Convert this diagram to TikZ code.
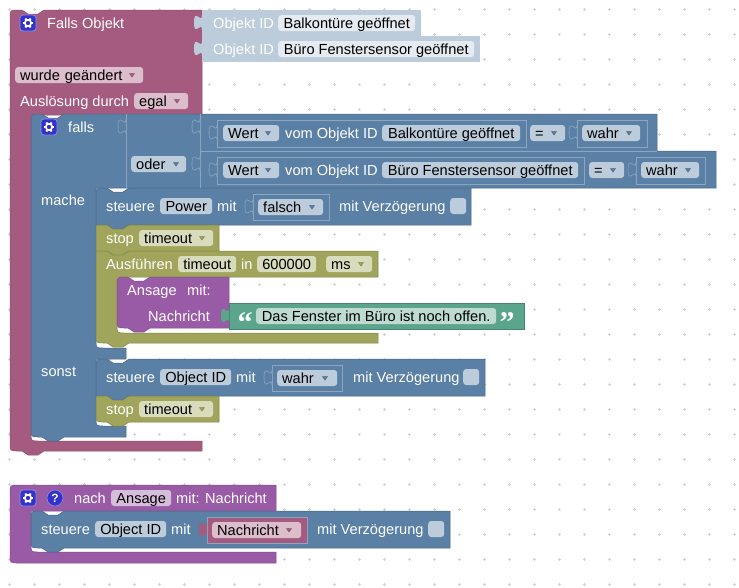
\documentclass[tikz,border=0pt]{standalone}
\usepackage{fontspec}
\setmainfont{Liberation Sans}
\newfontfamily\quotefont{Liberation Serif}

% block shapes, in pixel coordinates
\newcommand{\notchgo}[2]{-- (#1-11,#2) -- (#1-5,#2+4) -- (#1+5,#2+4) -- (#1+11,#2)}
\newcommand{\notchback}[2]{-- (#1+11,#2) -- (#1+5,#2+4) -- (#1-5,#2+4) -- (#1-11,#2)}
\newcommand{\puzzletab}[3]{\path[#3] (#1,#2+15) .. controls (#1,#2+5) and (#1-8,#2+23) .. (#1-8,#2+7.5) .. controls (#1-8,#2-8) and (#1,#2+10) .. (#1,#2);}
\newcommand{\droptri}[3]{\fill[#3] (#1-2.5,#2-1.5) -- (#1+2.5,#2-1.5) -- (#1,#2+2) -- cycle;}

\tikzset{
    blocktext/.style={anchor=west, inner sep=0pt, text=white, text height=12pt, text depth=2pt},
    fieldbox/.style={anchor=west, rounded corners=3pt, inner xsep=5pt, inner ysep=1pt, text=black, align=left, text height=12pt, text depth=2pt},
    bluefield/.style={fieldbox, fill=bluefield},
    pinkfield/.style={fieldbox, fill=pinkfield},
    olivefield/.style={fieldbox, fill=olivefield},
    purplefield/.style={fieldbox, fill=purplefield},
    greenfield/.style={fieldbox, fill=greenfield},
    lightfield/.style={fieldbox, fill=lightfield},
    pinkblock/.style={fill=pinkblock, draw=pinkedge, line width=.5pt},
    blueblock/.style={fill=blueblock, draw=blueedge, line width=.5pt},
    oliveblock/.style={fill=oliveblock, draw=oliveedge, line width=.5pt},
    purpleblock/.style={fill=purpleblock, draw=purpleedge, line width=.5pt},
    greenblock/.style={fill=greenblock, draw=greenedge, line width=.5pt},
    lightblock/.style={fill=lightblock},
    blueseam/.style={draw=blueseam, line width=.7pt},
    bluetab/.style={fill=blueblock, draw=blueseam, line width=.6pt},
    gearicon/.pic={
        \path[fill=iconblue, draw=iconedge, line width=.8pt, rounded corners=3pt] (-8,-8) rectangle (8,8);
        \foreach \ga in {0,60,...,300} \draw[white, line width=2pt] (\ga:3) -- (\ga:5.2);
        \draw[white, line width=1.6pt] (0,0) circle (3.2);
    },
}

\begin{document}
\begin{tikzpicture}[x=1pt, y=-1pt, font=\fontsize{14.6}{16}\selectfont]
    \definecolor{pinkblock}{RGB}{165,91,128}
    \definecolor{pinkedge}{RGB}{140,78,108}
    \definecolor{pinkfield}{RGB}{219,189,204}
    \definecolor{blueblock}{RGB}{91,128,165}
    \definecolor{blueedge}{RGB}{73,102,132}
    \definecolor{blueseam}{RGB}{140,166,192}
    \definecolor{bluefield}{RGB}{189,204,219}
    \definecolor{oliveblock}{RGB}{160,165,91}
    \definecolor{oliveedge}{RGB}{128,132,73}
    \definecolor{olivefield}{RGB}{217,219,189}
    \definecolor{purpleblock}{RGB}{153,91,165}
    \definecolor{purpleedge}{RGB}{130,78,140}
    \definecolor{purplefield}{RGB}{214,189,219}
    \definecolor{greenblock}{RGB}{91,165,140}
    \definecolor{greenedge}{RGB}{73,132,112}
    \definecolor{greenfield}{RGB}{189,219,209}
    \definecolor{lightblock}{RGB}{189,204,219}
    \definecolor{lightfield}{RGB}{229,235,241}
    \definecolor{iconblue}{RGB}{51,51,204}
    \definecolor{iconedge}{RGB}{140,140,225}
    \definecolor{gridplus}{RGB}{210,210,210}

    \useasboundingbox (0,0) rectangle (739,587);
    \fill[white] (0,0) rectangle (739,587);

    % workspace grid
    \foreach \gx in {9,34,...,734}
        \foreach \gy in {9,34,...,584}
            \draw[gridplus, line width=.7pt] (\gx-1.5,\gy) -- (\gx+1.5,\gy) (\gx,\gy-1.5) -- (\gx,\gy+1.5);

    % trigger block
    \path[pinkblock] (10,18) .. controls (10,10) .. (18,10) \notchgo{33}{10} -- (202,10) -- (202,115) -- (31,115) -- (31,433) .. controls (31,441) .. (39,441) -- (202,441) -- (202,451) \notchback{33}{451} -- (18,451) .. controls (10,451) .. (10,443) -- cycle;
    \path[lightblock] (202,10) rectangle (421,36);
    \path[lightblock] (202,36) rectangle (480,62);
    \puzzletab{202}{15}{lightblock}
    \puzzletab{202}{41}{lightblock}

    \pic at (28,23) {gearicon};
    \node[blocktext] (fallsobjekt) at (47,23) {Falls Objekt};
    \node[blocktext] (idlabelA) at (213,23) {Objekt ID};
    \node[lightfield, minimum width=137pt] (idfieldA) at (278,23) {Balkontüre geöffnet};
    \node[blocktext] (idlabelB) at (213,49) {Objekt ID};
    \node[lightfield, minimum width=196pt] (idfieldB) at (278,49) {Büro Fenstersensor geöffnet};
    \node[pinkfield, text width=118pt] (changed) at (15,75) {wurde geändert};
    \droptri{132}{75}{pinkblock}
    \node[blocktext] (trigger) at (20,101) {Auslösung durch};
    \node[pinkfield, text width=44pt] (egal) at (134,101) {egal};
    \droptri{177}{101}{pinkblock}

    % if block
    \path[blueblock] (31,122) .. controls (31,114) .. (39,114) \notchgo{53}{114} -- (657,114) -- (657,151) -- (716,151) -- (716,188) -- (96,188) -- (96,340) .. controls (96,348) .. (104,348) -- (126,348) -- (126,359) -- (96,359) -- (96,418) .. controls (96,426) .. (104,426) -- (126,426) -- (126,437) \notchback{53}{437} -- (39,437) .. controls (31,437) .. (31,429) -- cycle;
    \draw[blueseam] (126,114) -- (126,188);
    \draw[blueseam] (200,114) -- (200,188);
    \draw[blueseam] (200,151) -- (657,151);
    \draw[blueseam] (217,120) rectangle (526,147);
    \draw[blueseam] (577,120) rectangle (647,147);
    \draw[blueseam] (217,157) rectangle (584,184);
    \draw[blueseam] (636,157) rectangle (705,184);
    \puzzletab{126}{119}{bluetab}
    \puzzletab{200}{119}{bluetab}
    \puzzletab{217}{125}{bluetab}
    \puzzletab{577}{125}{bluetab}
    \puzzletab{200}{156}{bluetab}
    \puzzletab{217}{162}{bluetab}
    \puzzletab{636}{162}{bluetab}

    \pic at (49,127) {gearicon};
    \node[blocktext] (falls) at (68,127) {falls};
    \node[bluefield, text width=45pt] (oder) at (131,164) {oder};
    \droptri{176}{164}{blueblock}
    \node[blocktext] (mache) at (41,200) {mache};
    \node[blocktext] (sonst) at (41,371) {sonst};

    \node[bluefield, text width=46pt] (wertA) at (223,133) {Wert};
    \droptri{268}{133}{blueblock}
    \node[blocktext] (vomA) at (285,133) {vom Objekt ID};
    \node[bluefield, minimum width=138pt] (balkon) at (382,133) {Balkontüre geöffnet};
    \node[bluefield, text width=25pt] (eqA) at (530,133) {=};
    \droptri{554}{133}{blueblock}
    \node[bluefield, text width=48pt] (wahrA) at (582,133) {wahr};
    \droptri{629}{133}{blueblock}

    \node[bluefield, text width=46pt] (wertB) at (223,170) {Wert};
    \droptri{268}{170}{blueblock}
    \node[blocktext] (vomB) at (285,170) {vom Objekt ID};
    \node[bluefield, minimum width=196pt] (buero) at (382,170) {Büro Fenstersensor geöffnet};
    \node[bluefield, text width=25pt] (eqB) at (589,170) {=};
    \droptri{613}{170}{blueblock}
    \node[bluefield, text width=48pt] (wahrB) at (641,170) {wahr};
    \droptri{688}{170}{blueblock}

    % then branch
    \path[blueblock] (96,196) .. controls (96,188) .. (104,188) \notchgo{118}{188} -- (471,188) -- (471,225) \notchback{118}{225} -- (96,225) -- cycle;
    \draw[blueseam] (253,194) rectangle (329,220);
    \puzzletab{253}{199}{bluetab}
    \node[blocktext] (steuereA) at (106,206) {steuere};
    \node[bluefield, minimum width=52pt] (power) at (160,206) {Power};
    \node[blocktext] (mitA) at (217,206) {mit};
    \node[bluefield, text width=55pt] (falsch) at (258,207) {falsch};
    \droptri{312}{207}{blueblock}
    \node[blocktext] (delayA) at (339,206) {mit Verzögerung};
    \node[fieldbox, fill=bluefield, minimum width=16pt, inner xsep=0pt] (checkA) at (450,206) {};

    \path[oliveblock] (96,225) \notchgo{118}{225} -- (219,225) -- (219,251) \notchback{118}{251} -- (96,251) -- cycle;
    \node[blocktext] (stopA) at (106,238) {stop};
    \node[olivefield, text width=64pt] (timeoutA) at (139,238) {timeout};
    \droptri{202}{238}{oliveblock}

    \path[oliveblock] (96,251) \notchgo{118}{251} -- (378,251) -- (378,277) -- (117,277) -- (117,325) .. controls (117,333) .. (125,333) -- (378,333) -- (378,343) \notchback{118}{343} -- (104,343) .. controls (96,343) .. (96,335) -- cycle;
    \node[blocktext] (run) at (106,264) {Ausführen};
    \node[olivefield, minimum width=58pt] (timeoutB) at (178,264) {timeout};
    \node[blocktext] (inlabel) at (241,264) {in};
    \node[olivefield, minimum width=59pt] (delay) at (257,264) {600000};
    \node[olivefield, text width=36pt] (ms) at (326,264) {ms};
    \droptri{361}{264}{oliveblock}

    \path[purpleblock] (117,285) .. controls (117,277) .. (125,277) \notchgo{139}{277} -- (229,277) -- (229,328) \notchback{139}{328} -- (125,328) .. controls (117,328) .. (117,320) -- cycle;
    \node[blocktext] (ansage) at (127,290) {Ansage};
    \node[blocktext] (mitB) at (187,290) {mit:};
    \node[blocktext] (nachricht) at (148,316) {Nachricht};

    \path[greenblock] (229,303) rectangle (524,329);
    \puzzletab{229}{308}{fill=greenblock}
    \node[anchor=center, inner sep=0pt, text=white, font=\quotefont\bfseries\fontsize{30}{30}\selectfont] (quoteopen) at (245,323) {“};
    \node[greenfield, minimum width=240pt] (speech) at (256,316) {Das Fenster im Büro ist noch offen.};
    \node[anchor=center, inner sep=0pt, text=white, font=\quotefont\bfseries\fontsize{30}{30}\selectfont] (quoteclose) at (507,323) {”};

    % else branch
    \path[blueblock] (96,367) .. controls (96,359) .. (104,359) \notchgo{118}{359} -- (485,359) -- (485,396) \notchback{118}{396} -- (96,396) -- cycle;
    \draw[blueseam] (272,365) rectangle (342,391);
    \puzzletab{272}{370}{bluetab}
    \node[blocktext] (steuereB) at (106,377) {steuere};
    \node[bluefield, minimum width=71pt] (objidA) at (160,377) {Object ID};
    \node[blocktext] (mitC) at (236,377) {mit};
    \node[bluefield, text width=50pt] (wahrC) at (277,378) {wahr};
    \droptri{325}{378}{blueblock}
    \node[blocktext] (delayB) at (353,377) {mit Verzögerung};
    \node[fieldbox, fill=bluefield, minimum width=16pt, inner xsep=0pt] (checkB) at (463,377) {};

    \path[oliveblock] (96,396) \notchgo{118}{396} -- (219,396) -- (219,422) \notchback{118}{422} -- (104,422) .. controls (96,422) .. (96,414) -- cycle;
    \node[blocktext] (stopB) at (106,409) {stop};
    \node[olivefield, text width=64pt] (timeoutC) at (139,409) {timeout};
    \droptri{202}{409}{oliveblock}

    % function block
    \path[purpleblock] (10,493) .. controls (10,485) .. (18,485) -- (276,485) -- (276,511) -- (31,511) -- (31,544) .. controls (31,552) .. (39,552) -- (276,552) -- (276,563) -- (18,563) .. controls (10,563) .. (10,555) -- cycle;
    \pic at (28,498) {gearicon};
    \node[circle, fill=iconblue, draw=iconedge, line width=.6pt, minimum size=16pt, inner sep=0pt, text=white, font=\fontsize{12}{12}\selectfont\bfseries] (helpmark) at (55,498) {?};
    \node[blocktext] (nach) at (74,498) {nach};
    \node[purplefield, minimum width=60pt] (ansagename) at (111,498) {Ansage};
    \node[blocktext] (params) at (176,498) {mit: Nachricht};

    \path[blueblock] (31,519) .. controls (31,511) .. (39,511) \notchgo{53}{511} -- (450,511) -- (450,548) \notchback{53}{548} -- (39,548) .. controls (31,548) .. (31,540) -- cycle;
    \path[pinkblock, draw=blueseam] (207,517) rectangle (307,543);
    \puzzletab{207}{522}{fill=pinkblock}
    \node[blocktext] (steuereC) at (41,529) {steuere};
    \node[bluefield, minimum width=71pt] (objidB) at (95,529) {Object ID};
    \node[blocktext] (mitD) at (171,529) {mit};
    \node[pinkfield, text width=79pt] (nachrichtvar) at (212,530) {Nachricht};
    \droptri{289}{530}{pinkblock}
    \node[blocktext] (delayC) at (317,529) {mit Verzögerung};
    \node[fieldbox, fill=bluefield, minimum width=16pt, inner xsep=0pt] (checkC) at (428,529) {};
\end{tikzpicture}
\end{document}
